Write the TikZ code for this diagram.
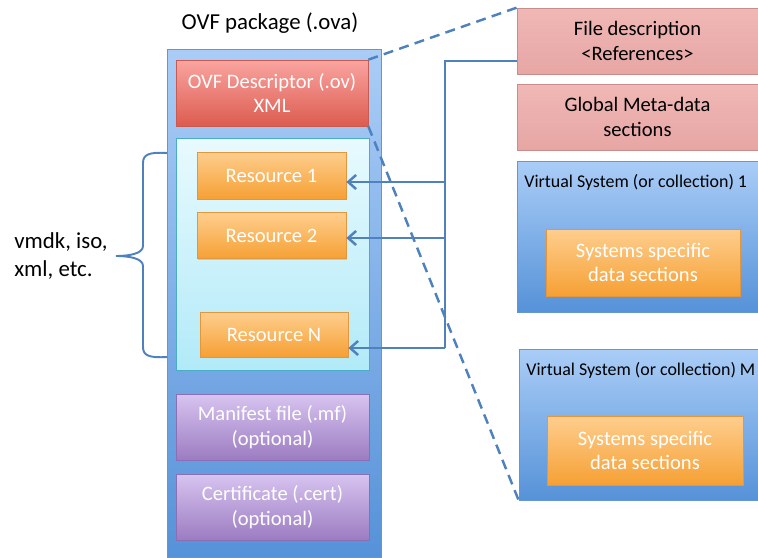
\documentclass[tikz,border=0pt]{standalone}
\usepackage{fontspec}
\setmainfont{Carlito}
\usetikzlibrary{arrows.meta,shadows}

\definecolor{linkblue}{RGB}{79,129,189}
\definecolor{pkgtop}{RGB}{170,205,247}
\definecolor{pkgbot}{RGB}{86,146,216}
\definecolor{pkgline}{RGB}{102,150,206}
\definecolor{redtop}{RGB}{250,164,160}
\definecolor{redbot}{RGB}{220,92,80}
\definecolor{redline}{RGB}{200,90,82}
\definecolor{cyantop}{RGB}{232,250,254}
\definecolor{cyanbot}{RGB}{178,234,248}
\definecolor{cyanline}{RGB}{75,172,198}
\definecolor{orgtop}{RGB}{254,206,142}
\definecolor{orgbot}{RGB}{246,160,52}
\definecolor{orgline}{RGB}{228,150,60}
\definecolor{purtop}{RGB}{216,196,240}
\definecolor{purbot}{RGB}{156,124,194}
\definecolor{purline}{RGB}{140,110,180}
\definecolor{pinktop}{RGB}{240,184,182}
\definecolor{pinkbot}{RGB}{230,166,164}
\definecolor{pinkline}{RGB}{200,140,138}

\begin{document}
\begin{tikzpicture}[x=0.02cm, y=-0.02cm,
    box/.style={rectangle, draw, inner sep=1pt, align=center,
        font=\fontsize{11.7}{14}\selectfont,
        drop shadow={opacity=0.3, shadow xshift=0.6pt, shadow yshift=-0.8pt}},
    pkgbox/.style={rectangle, draw=pkgline, top color=pkgtop, bottom color=pkgbot},
    redbox/.style={box, draw=redline, top color=redtop, bottom color=redbot, text=white},
    resbox/.style={box, draw=orgline, top color=orgtop, bottom color=orgbot, text=white},
    purbox/.style={box, draw=purline, top color=purtop, bottom color=purbot, text=white},
    pinkbox/.style={box, draw=pinkline, top color=pinktop, bottom color=pinkbot, text=black},
    vsbox/.style={box, draw=pkgline, top color=pkgtop, bottom color=pkgbot},
    vslabel/.style={inner sep=0pt, anchor=west, font=\fontsize{10.2}{12}\selectfont},
    link/.style={draw=linkblue, line width=1.4pt},
    ref/.style={link, -{Straight Barb[length=4.5pt, width=8pt]}},
    dashlink/.style={draw=linkblue, line width=1.4pt, dash pattern=on 5.7pt off 3.6pt}]
\clip (0,0) rectangle (758,558);

% package on the left
\node[font=\fontsize{13}{15.5}\selectfont] (title) at (270, 23) {OVF package (.ova)};
\node[pkgbox, minimum width=4.28cm, minimum height=10.16cm] (pkg) at (274, 303) {};
\node[redbox, minimum width=3.84cm, minimum height=1.32cm] (desc) at (272, 93) {OVF Descriptor (.ov)\\XML};
\node[rectangle, draw=cyanline, top color=cyantop, bottom color=cyanbot,
    minimum width=3.86cm, minimum height=4.64cm] (respanel) at (272.5, 254) {};
\node[resbox, minimum width=2.98cm, minimum height=0.94cm] (res1) at (271.5, 175.5) {Resource 1};
\node[resbox, minimum width=2.98cm, minimum height=0.92cm] (res2) at (271.5, 235.5) {Resource 2};
\node[resbox, minimum width=2.96cm, minimum height=0.90cm] (resN) at (274, 334.5) {Resource N};
\node[purbox, minimum width=3.86cm, minimum height=1.32cm] (mf) at (272.5, 427) {Manifest file (.mf)\\(optional)};
\node[purbox, minimum width=3.86cm, minimum height=1.32cm] (cert) at (272.5, 507) {Certificate (.cert)\\(optional)};

% brace and file types
\draw[linkblue, line width=1.1pt] (167,153) .. controls (150,152) and (143,154) .. (143,163)
    -- (143,246) .. controls (143,254) and (128,256) .. (116,256)
    .. controls (128,256) and (143,258) .. (143,266)
    -- (143,347) .. controls (143,356) and (150,358) .. (167,357);
\node[anchor=west, align=left, inner sep=0pt, font=\fontsize{13}{15.9}\selectfont] (types) at (14, 256) {vmdk, iso,\\xml, etc.};

% descriptor contents on the right
\node[pinkbox, minimum width=4.82cm, minimum height=1.32cm] (filedesc) at (637.5, 41) {File description\\<References>};
\node[pinkbox, minimum width=4.82cm, minimum height=1.32cm] (meta) at (637.5, 117) {Global Meta-data\\sections};
\node[vsbox, minimum width=4.86cm, minimum height=3.02cm] (vs1) at (638.5, 236.5) {};
\node[vslabel] (vs1lbl) at (524, 182) {Virtual System (or collection) 1};
\node[resbox, minimum width=3.88cm, minimum height=1.34cm] (data1) at (643, 262.5) {Systems specific\\data sections};
\node[vsbox, minimum width=4.82cm, minimum height=3.02cm] (vsM) at (639.5, 424.5) {};
\node[vslabel] (vsMlbl) at (526, 370) {Virtual System (or collection) M};
\node[resbox, minimum width=3.92cm, minimum height=1.38cm] (dataM) at (645, 450.5) {Systems specific\\data sections};

% references
\coordinate (refin) at (517, 61);
\coordinate (trunk) at (445, 61);
\coordinate (a1) at (445, 182);
\coordinate (a2) at (445, 238);
\coordinate (aN) at (445, 348);
\draw[link] (refin) -- (trunk) -- (aN);
\draw[ref] (a1) -- (a1 -| res1.east);
\draw[ref] (a2) -- (a2 -| res2.east);
\draw[ref] (aN) -- (aN -| resN.east);

% zoom of the descriptor
\draw[dashlink] (desc.north east) -- (filedesc.north west);
\draw[dashlink] (desc.south east) -- (vsM.south west);
\end{tikzpicture}
\end{document}
